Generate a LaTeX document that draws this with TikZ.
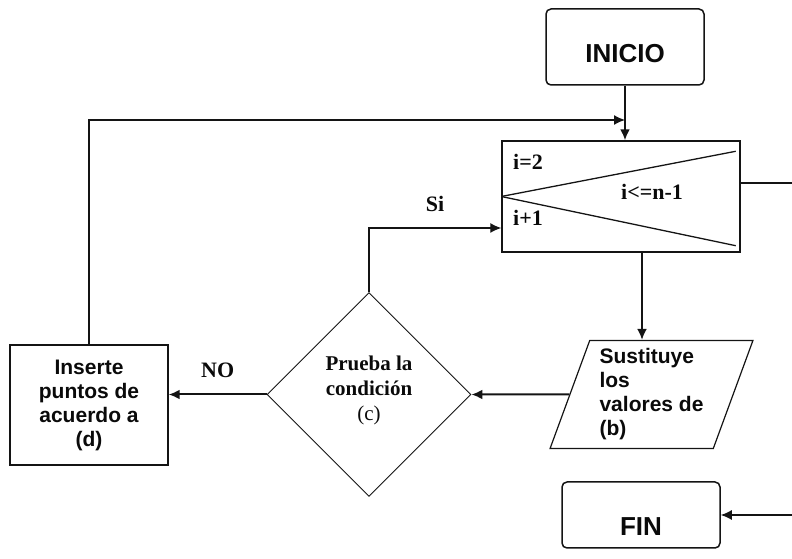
\documentclass[tikz,border=0pt]{standalone}
\usepackage{fontspec}
\setmainfont{Liberation Serif}
\setsansfont{Liberation Sans}
\usepackage{tikz}
\usetikzlibrary{
  shapes.geometric,
  arrows.meta,
  positioning,
  calc
}
\definecolor{linecolor}{RGB}{20, 20, 20}
\definecolor{labelcolor}{RGB}{10, 10, 10}
\tikzset{
blocktext/.style={
  align=center,
  font=\sffamily\bfseries\fontsize{21}{24}\selectfont,
  text=labelcolor
},
terminalblock/.style={
  draw=linecolor,
  line width=1.5pt,
  rounded corners=5pt,
  minimum width=158pt,
  text depth=0pt,
  font=\sffamily\bfseries\fontsize{26}{30}\selectfont,
  text=labelcolor
},
processblock/.style={
  draw=linecolor,
  line width=1.4pt,
  minimum width=158pt,
  minimum height=120pt,
  inner sep=0pt,
  blocktext
},
datablock/.style={
  draw=linecolor,
  line width=1.2pt,
  trapezium,
  trapezium left angle=70,
  trapezium right angle=110,
  trapezium stretches=true,
  minimum width=203pt,
  minimum height=108pt,
  inner sep=0pt,
  blocktext,
  align=left
},
decisionblock/.style={
  draw=linecolor,
  line width=0.9pt,
  diamond,
  minimum width=204pt,
  minimum height=204pt,
  inner sep=0pt,
  text depth=12pt,
  align=center,
  font=\bfseries\fontsize{21}{25}\selectfont,
  text=labelcolor
},
loopblock/.style={
  draw=linecolor,
  line width=1.4pt,
  minimum width=238pt,
  minimum height=111pt,
  inner sep=0pt
},
condlabel/.style={
  font=\bfseries\fontsize{22}{24}\selectfont,
  text=labelcolor,
  inner sep=1pt
},
line/.style={
  line width=1.3pt,
  draw=linecolor
},
arrow/.style={
  -{Latex[length=11pt,width=10pt]},
  line width=2pt,
  draw=linecolor
}
}

\begin{document}
\begin{tikzpicture}[x=1pt, y=1pt]
      \useasboundingbox (0,0) rectangle (792,559);

      \node[terminalblock, minimum height=76pt, text height=31pt] (inicio) at (625,512) {INICIO};
      \node[loopblock] (bucle) at (621,362.5) {};
      \draw[line] (bucle.west) -- ($(bucle.north east)+(-5,-11)$);
      \draw[line] (bucle.west) -- ($(bucle.south east)+(-5,7)$);
      \node[condlabel, anchor=west] (ini) at (512,397) {i=2};
      \node[condlabel, anchor=west] (inc) at (512,341) {i+1};
      \node[condlabel] (lim) at (652,367) {i<=n-1};

      \node[datablock] (sust) at (651.5,164.5) {Sustituye\\los\\valores de\\(b)};
      \node[decisionblock] (cond) at (369,164.5) {Prueba la\\condición\\{\mdseries (c)}};
      \node[processblock] (inserte) at (89,154) {Inserte\\puntos de\\acuerdo a\\(d)};
      \node[terminalblock, minimum height=66pt, text height=41pt] (fin) at (641,44) {FIN};

      \coordinate (union) at (inicio.south |- 0,439);
      \coordinate (salida) at (792,376);
      \coordinate (llegada) at (792,44);

      \draw[arrow] (inicio.south) -- (inicio.south |- bucle.north);
      \draw[line, -{Latex[length=11pt,width=10pt]}] (inserte.north) |- (union);
      \draw[arrow] ([xshift=21pt]bucle.south) -- ([xshift=21pt]bucle.south |- sust.north);
      \draw[arrow] (sust.west) -- (cond.east);
      \draw[arrow] (cond.west) -- (inserte.east |- cond.west) node[midway, above=15pt, condlabel] {NO};
      \draw[line, -{Latex[length=11pt,width=10pt]}] (cond.north) |- ([yshift=-31.5pt]bucle.west) node[pos=0.75, above=15pt, condlabel] {Si};
      \draw[line] ([yshift=13.5pt]bucle.east) -- (salida);
      \draw[line, -{Latex[length=11pt,width=10pt]}] (llegada) -- (fin.east);
    \end{tikzpicture}
\end{document}
